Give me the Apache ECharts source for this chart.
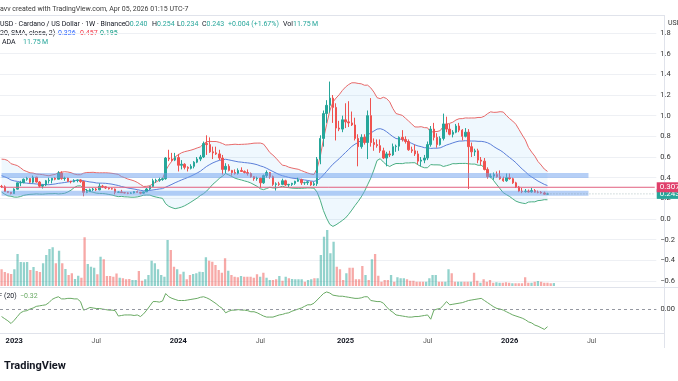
<!DOCTYPE html>
<html><head><meta charset="utf-8">
<script src="https://cdn.jsdelivr.net/npm/echarts@6/dist/echarts.min.js"></script>
<style>html,body{margin:0;padding:0;background:#fff;}#c{width:678px;height:381px;}</style>
</head><body><div id="c"></div>
<script>
// ---- data ----
const startWeek = '2022-12-05';
const weekCount = 208;
const tickLabels = [['2023-01-02','2023'],['2023-07-03','Jul'],['2024-01-01','2024'],['2024-07-01','Jul'],['2025-01-06','2025'],['2025-07-07','Jul'],['2026-01-05','2026'],['2026-07-06','Jul']];
const priorCloses = [0.50,0.53,0.59,0.46,0.45,0.50,0.51,0.46,0.44,0.42,0.42,0.36,0.37,0.41,0.40,0.32,0.31,0.32,0.32];
const open = [.316,.311,.266,.258,.246,.289,.350,.352,.385,.392,.356,.405,.358,.318,.330,.370,.376,.395,.385,.445,.392,.396,.365,.360,.373,.378,.362,.258,.264,.284,.290,.282,.318,.312,.300,.293,.290,.258,.262,.255,.252,.249,.252,.265,.258,.250,.262,.290,.315,.370,.375,.382,.390,.590,.580,.570,.595,.520,.530,.500,.490,.510,.550,.580,.600,.730,.720,.650,.640,.630,.590,.480,.510,.470,.450,.440,.470,.460,.450,.440,.410,.390,.395,.350,.420,.450,.410,.335,.340,.335,.370,.330,.335,.345,.365,.380,.350,.352,.360,.330,.342,.580,.780,1.020,1.100,1.170,1.080,.880,.870,.960,.940,.930,.910,.780,.700,.790,.740,1.000,.740,.720,.710,.660,.590,.630,.620,.700,.705,.790,.770,.750,.670,.660,.630,.560,.570,.590,.720,.870,.790,.720,.780,.920,.870,.820,.840,.900,.860,.800,.840,.700,.650,.660,.570,.560,.480,.410,.415,.430,.410,.390,.370,.400,.390,.350,.310,.270,.265,.270,.262,.275,.260,.258,.252,.240];
const high = [.330,.325,.270,.262,.297,.353,.370,.392,.408,.395,.420,.409,.368,.335,.378,.400,.398,.405,.463,.462,.410,.400,.370,.385,.383,.385,.372,.290,.295,.300,.300,.345,.330,.318,.305,.303,.295,.270,.282,.262,.258,.260,.270,.275,.262,.265,.300,.320,.390,.390,.400,.400,.600,.670,.640,.640,.630,.570,.540,.510,.530,.560,.600,.620,.750,.810,.790,.700,.700,.670,.620,.540,.530,.475,.480,.490,.500,.470,.480,.450,.415,.410,.400,.430,.470,.455,.420,.355,.360,.390,.380,.340,.350,.370,.400,.390,.360,.370,.362,.360,.600,.810,1.050,1.150,1.330,1.200,1.120,.950,1.000,1.120,1.140,1.040,.980,.820,.820,.820,1.050,1.170,.780,.770,.770,.690,.650,.660,.730,.720,.800,.860,.800,.770,.700,.720,.660,.600,.620,.750,.900,.930,.830,.800,1.020,.990,.920,.860,.920,.930,.870,.880,.870,.740,.680,.680,.600,.590,.500,.440,.450,.460,.470,.410,.440,.440,.400,.360,.320,.300,.290,.285,.300,.290,.275,.270,.265,.254];
const low = [.300,.262,.253,.238,.243,.285,.318,.346,.370,.345,.345,.352,.305,.295,.318,.343,.345,.375,.383,.380,.370,.358,.345,.355,.355,.350,.220,.250,.262,.268,.270,.278,.300,.290,.285,.285,.238,.255,.253,.248,.240,.244,.247,.255,.240,.245,.262,.280,.310,.350,.360,.370,.380,.560,.560,.560,.460,.480,.480,.460,.480,.490,.540,.560,.590,.620,.640,.580,.620,.570,.430,.440,.460,.420,.430,.430,.455,.440,.420,.400,.370,.370,.300,.340,.400,.390,.320,.275,.320,.330,.320,.310,.320,.330,.360,.330,.330,.330,.320,.320,.320,.530,.700,.930,1.030,.930,.760,.850,.840,.880,.890,.900,.760,.510,.680,.720,.580,.700,.660,.690,.640,.580,.510,.600,.610,.650,.660,.750,.730,.660,.640,.610,.530,.510,.540,.570,.700,.760,.690,.710,.760,.840,.810,.790,.830,.840,.760,.790,.290,.600,.610,.540,.520,.470,.390,.395,.380,.400,.380,.360,.360,.380,.340,.300,.260,.250,.255,.255,.255,.255,.248,.245,.236,.234];
const close = [.311,.266,.258,.246,.289,.350,.352,.385,.392,.356,.405,.358,.318,.330,.370,.376,.395,.385,.445,.392,.396,.365,.360,.373,.378,.362,.258,.264,.284,.290,.282,.318,.312,.300,.293,.290,.258,.262,.255,.252,.249,.252,.265,.258,.250,.262,.290,.315,.370,.375,.382,.390,.590,.580,.570,.595,.520,.530,.500,.490,.510,.550,.580,.600,.730,.720,.650,.640,.630,.590,.480,.510,.470,.450,.440,.470,.460,.450,.440,.410,.390,.395,.350,.420,.450,.410,.335,.340,.335,.370,.330,.335,.345,.365,.380,.350,.352,.360,.330,.342,.580,.780,1.020,1.100,1.170,1.080,.880,.870,.960,.940,.930,.910,.780,.700,.790,.740,1.000,.740,.720,.710,.660,.590,.630,.620,.700,.705,.790,.770,.750,.670,.660,.630,.560,.570,.590,.720,.870,.790,.720,.780,.920,.870,.820,.840,.900,.860,.800,.840,.700,.650,.660,.570,.560,.480,.410,.415,.430,.410,.390,.370,.400,.390,.350,.310,.270,.265,.270,.262,.275,.260,.258,.252,.240,.243];
const volume = [67,56,51,48,67,128,96,95,96,64,76,60,56,91,124,148,155,91,141,91,68,44,51,28,41,33,195,88,77,73,47,117,107,40,40,37,50,33,31,27,28,24,24,60,21,27,44,101,91,67,44,37,184,144,77,67,47,57,27,44,48,51,57,56,115,101,97,84,64,53,111,61,44,37,35,40,37,37,37,33,47,37,53,33,24,24,27,40,21,37,31,28,27,27,27,17,24,27,31,31,124,197,224,131,177,77,67,24,51,73,73,27,27,80,44,24,107,128,41,17,24,24,44,17,35,31,31,27,21,21,17,17,17,17,31,44,44,17,17,17,67,51,17,17,17,17,17,17,53,21,13,27,17,24,13,15,13,13,15,13,11,11,11,11,35,13,13,17,20,17,13,13,11,11.75];
const cmf = [-0.13,-0.17,-0.21,-0.26,-0.20,-0.13,-0.06,-0.03,-0.02,0.01,0.03,0.06,0.07,0.08,0.09,0.13,0.19,0.22,0.24,0.20,0.20,0.21,0.21,0.20,0.20,0.15,-0.01,0.01,0.04,0.03,0.02,0.02,0.01,0.00,-0.01,-0.01,-0.02,-0.12,-0.11,-0.10,-0.10,-0.10,-0.11,-0.10,-0.13,-0.08,-0.01,0.07,0.15,0.15,0.14,0.16,0.30,0.24,0.21,0.19,0.17,0.17,0.17,0.18,0.19,0.20,0.21,0.23,0.24,0.22,0.19,0.15,0.11,0.06,0.02,-0.06,-0.03,-0.01,-0.01,0.00,-0.01,-0.01,-0.02,-0.04,-0.04,-0.06,-0.09,-0.12,-0.14,-0.14,-0.14,-0.12,-0.10,-0.09,-0.07,-0.06,-0.03,-0.01,0.01,0.03,0.06,0.09,0.09,0.12,0.18,0.24,0.30,0.33,0.31,0.27,0.26,0.25,0.25,0.24,0.23,0.22,0.21,0.21,0.22,0.24,0.24,0.17,0.16,0.15,0.15,0.12,0.05,-0.01,-0.05,-0.10,-0.11,-0.12,-0.13,-0.14,-0.14,-0.13,-0.13,-0.12,-0.11,-0.10,-0.18,-0.01,0.01,0.02,0.08,0.15,0.09,0.10,0.11,0.12,0.13,0.15,0.17,0.18,0.19,0.20,0.21,0.17,0.13,0.09,0.05,0.02,0.01,-0.01,-0.04,-0.07,-0.10,-0.12,-0.14,-0.16,-0.19,-0.23,-0.25,-0.29,-0.31,-0.34,-0.37,-0.32];
const bandLevels = [0.42, 0.25];
const bandEnd = '2026-06-29';
const redLevel = 0.307;
const lastPrice = 0.243;

// ---- derived ----
const cats = [];
(function(){const d=new Date(startWeek+'T00:00:00Z');for(let i=0;i<weekCount;i++){cats.push(d.toISOString().slice(0,10));d.setUTCDate(d.getUTCDate()+7);}})();
const lastCat = cats[cats.length-1];
const tickMap = {}; tickLabels.forEach(t=>tickMap[t[0]]=t[1]);
const allCloses = priorCloses.concat(close);
const bbMid=[],bbUp=[],bbLo=[],bbGap=[];
for(let i=0;i<close.length;i++){const w=allCloses.slice(i,i+20);const m=w.reduce((a,b)=>a+b,0)/20;const sd=Math.sqrt(w.reduce((a,b)=>a+(b-m)*(b-m),0)/20);bbMid.push(m);bbUp.push(m+2*sd);bbLo.push(m-2*sd);bbGap.push(4*sd);}
const UP='#26a69a', DN='#ef5350';
const candles = open.map((o,i)=>[o,close[i],low[i],high[i]]);
const vols = volume.map((v,i)=>({value:v,itemStyle:{color: close[i]>=open[i]?'rgba(38,166,154,0.5)':'rgba(239,83,80,0.5)'}}));

const FONT='Roboto, sans-serif';
const chart = echarts.init(document.getElementById('c'));
const GL=-2.4, GR=14;
const xBase = {type:'category',data:cats,boundaryGap:true};
const txt=(x,y,text,fill,size,extra)=>({type:'text',x:x,y:y,style:Object.assign({text:text,fill:fill,fontSize:size||7,fontFamily:FONT,verticalAlign:'middle',align:'left'},extra||{})});
const line=(x1,y1,x2,y2,c)=>({type:'line',shape:{x1:x1,y1:y1,x2:x2,y2:y2},style:{stroke:c||'#e0e3eb',lineWidth:1}});
const rich7={k:{fill:'#131722',fontSize:7,fontFamily:FONT},v:{fill:UP,fontSize:7,fontFamily:FONT}};
const levelSeries = (name,from,to,val,style,z,tag)=>({name:name,type:'line',xAxisIndex:0,yAxisIndex:0,data:[[from,val],[to,val]],symbol:'none',silent:true,z:z,lineStyle:style,
  endLabel: tag?{show:true,distance:2,formatter:tag.text,color:'#fff',backgroundColor:tag.bg,padding:[1,3,1,3],fontSize:8,fontFamily:FONT}:{show:false}});
chart.setOption({
  animation:false,
  backgroundColor:'#ffffff',
  grid:[
    {left:GL,right:GR,top:33,height:248},
    {left:GL,right:GR,top:230,height:56},
    {left:GL,right:GR,top:288.2,height:42.8}
  ],
  xAxis:[
    Object.assign({gridIndex:0,show:false},xBase),
    Object.assign({gridIndex:1,show:false},xBase),
    Object.assign({gridIndex:2,axisLine:{show:false},axisTick:{show:false},splitLine:{show:false},
      axisLabel:{margin:6.5,interval:(i,v)=>tickMap[v]!==undefined,
        formatter:v=>{const t=tickMap[v];if(t===undefined)return '';return t==='Jul'?'{m|'+t+'}':'{y|'+t+'}';},
        rich:{y:{fontSize:7.5,fontWeight:'bold',color:'#131722',fontFamily:FONT},m:{fontSize:7,color:'#555',fontFamily:FONT}}}},xBase)
  ],
  yAxis:[
    {gridIndex:0,position:'right',min:-0.6,max:1.8,interval:0.2,axisLine:{show:false},axisTick:{show:false},
      axisLabel:{margin:4,fontSize:7.5,color:'#333',fontFamily:FONT,formatter:v=>(v<-1e-9?'\u2212':'')+Math.abs(v).toFixed(1)},
      splitLine:{lineStyle:{color:'#eef0f4',width:1}}},
    {gridIndex:1,show:false,min:0,max:224},
    {gridIndex:2,position:'right',min:-0.4,max:0.4,interval:0.4,axisLine:{show:false},axisTick:{show:false},splitLine:{show:false},
      axisLabel:{margin:4,fontSize:7.5,color:'#333',fontFamily:FONT,formatter:v=>Math.abs(v)<1e-9?'0.00':''}}
  ],
  series:[
    {name:'vol',type:'bar',xAxisIndex:1,yAxisIndex:1,data:vols,barWidth:'72%',z:1},
    {name:'bbBase',type:'line',xAxisIndex:0,yAxisIndex:0,data:bbLo,stack:'bb',stackStrategy:'all',symbol:'none',lineStyle:{opacity:0},z:2,silent:true},
    {name:'bbFill',type:'line',xAxisIndex:0,yAxisIndex:0,data:bbGap,stack:'bb',stackStrategy:'all',symbol:'none',lineStyle:{opacity:0},areaStyle:{color:'rgba(33,150,243,0.1)'},z:2,silent:true},
    {name:'bbUp',type:'line',data:bbUp,symbol:'none',lineStyle:{color:'#e86a6a',width:1},z:3},
    {name:'bbMid',type:'line',data:bbMid,symbol:'none',lineStyle:{color:'#5b7fd9',width:1},z:3},
    {name:'bbLo',type:'line',data:bbLo,symbol:'none',lineStyle:{color:'#4caf84',width:1},z:3},
    {name:'ADA',type:'candlestick',data:candles,barWidth:'62%',z:4,
      itemStyle:{color:UP,color0:DN,borderColor:UP,borderColor0:DN,borderWidth:1}},
    levelSeries('band1',cats[0],bandEnd,bandLevels[0],{color:'rgba(110,160,238,0.5)',width:5},5),
    levelSeries('band2',cats[0],bandEnd,bandLevels[1],{color:'rgba(110,160,238,0.5)',width:5},5),
    levelSeries('lastPx',cats[close.length-1],lastCat,lastPrice,{color:'rgba(120,150,150,0.6)',width:1,type:[1,2]},5,{text:lastPrice.toFixed(4),bg:UP}),
    levelSeries('redLine',cats[0],lastCat,redLevel,{color:'#e2607f',width:1},6,{text:redLevel.toFixed(4),bg:'#e0406b'}),
    {name:'CMF',type:'line',xAxisIndex:2,yAxisIndex:2,data:cmf,symbol:'none',lineStyle:{color:'#6aaa64',width:1},z:3,
      markLine:{silent:true,symbol:['none','none'],label:{show:false},lineStyle:{color:'#9598a1',type:[3,3],width:1},data:[{yAxis:0}]}}
  ],
  graphic:[
    line(0,15.5,664,15.5),
    line(0,287.5,678,287.5),
    line(0,333.5,664,333.5),
    line(664.5,15,664.5,348),
    txt(0,9,'avv created with TradingView.com, Apr 05, 2026 01:15 UTC-7','#3a3a3a',7),
    txt(0,24.5,'USD \u00b7 Cardano / US Dollar \u00b7 1W \u00b7 Binance','#131722',7),
    txt(125,24.5,'{k|O}{v|0.240}','#131722',7,{rich:rich7}),
    txt(152,24.5,'{k|H}{v|0.254}','#131722',7,{rich:rich7}),
    txt(177,24.5,'{k|L}{v|0.234}','#131722',7,{rich:rich7}),
    txt(202,24.5,'{k|C}{v|0.243}','#131722',7,{rich:rich7}),
    txt(228,24.5,'+0.004 (+1.67%)',UP,7),
    txt(283,24.5,'{k|Vol}{v|11.75\u2009M}','#131722',7,{rich:rich7}),
    txt(0,33.5,'20, SMA, close, 2)','#131722',7),
    txt(58,33.5,'0.326','#2962ff',7),
    txt(80,33.5,'0.457','#f23645',7),
    txt(100,33.5,'0.195','#089981',7),
    txt(2,42.5,'ADA','#131722',7),
    txt(23,42.5,'11.75\u2009M',UP,7),
    txt(668,23,'USD','#333',7),
    txt(2,296,'CMF','#131722',7,{align:'right'}),
    txt(4,296,'(20)','#131722',7),
    txt(20,296,'\u22120.32','#6aaa64',7),
    txt(4,366,'TradingView','#131722',11,{fontWeight:'bold'})
  ]
});
</script></body></html>
